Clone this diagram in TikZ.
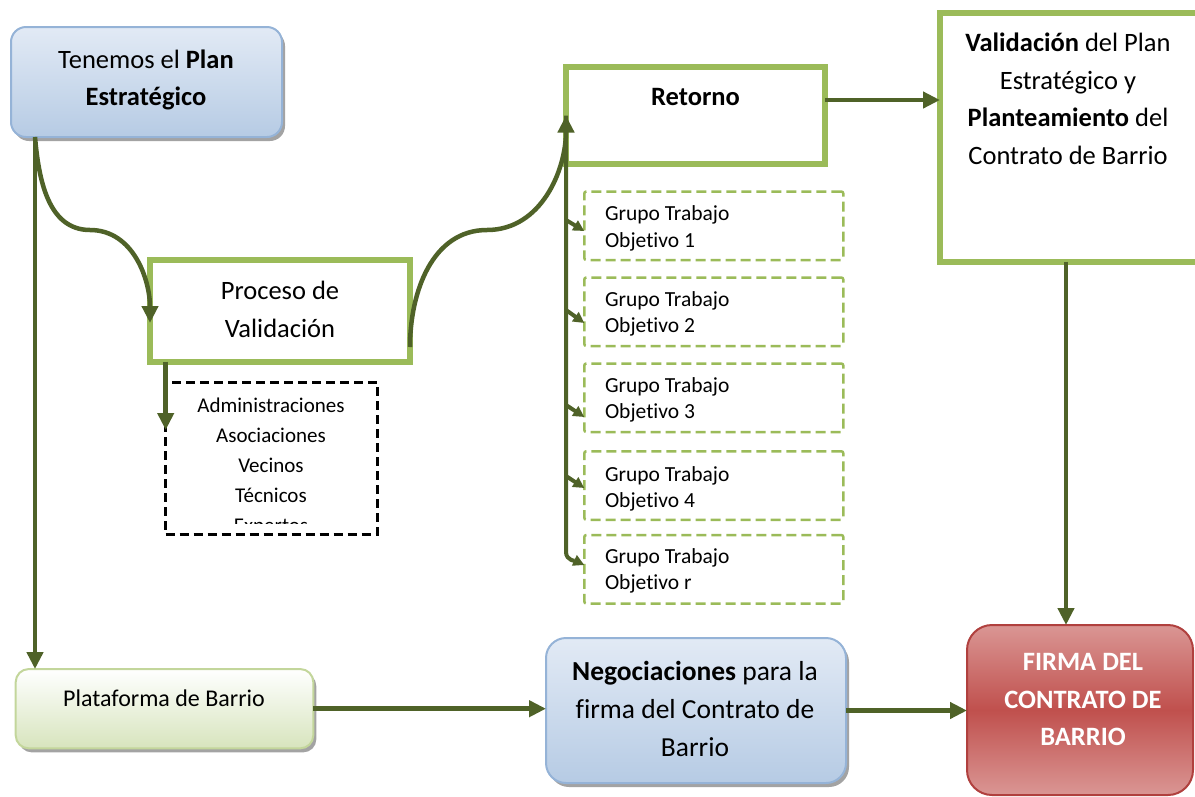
\documentclass[tikz,border=0pt]{standalone}
\usepackage{fontspec}
\setmainfont{Carlito}[Ligatures=NoCommon]
\usetikzlibrary{arrows.meta,shadows,calc}
\definecolor{arrowc}{HTML}{4F6228}
\definecolor{gborder}{HTML}{9BBB59}
\definecolor{blueb}{HTML}{95B3D7}
\definecolor{bluetop}{HTML}{E2EAF5}
\definecolor{bluebot}{HTML}{B6CBE4}
\definecolor{greenbot}{HTML}{D7E4BD}
\definecolor{greenb}{HTML}{C3D69B}
\definecolor{redtop}{HTML}{DA9694}
\definecolor{redmid}{HTML}{C0504D}
\definecolor{redb}{HTML}{B0403E}
\begin{document}
\begin{tikzpicture}[x=1pt,y=-1pt,
  every node/.style={inner sep=0pt,outer sep=0pt},
  bigtxt/.style={font=\fontsize{26.5}{37.5}\selectfont,align=center},
  grptxt/.style={font=\fontsize{21.5}{26.5}\selectfont,align=left,anchor=west},
  shadowed/.style={drop shadow={shadow xshift=3pt,shadow yshift=-4pt,fill=black!45,opacity=0.8}},
  bluebox/.style={draw=blueb,line width=2pt,rounded corners=15pt,top color=bluetop,bottom color=bluebot,shadowed},
  greenbox/.style={draw=greenb,line width=2pt,rounded corners=13pt,top color=white,bottom color=greenbot,shadowed},
  redbox/.style={draw=redb,line width=2pt,rounded corners=25pt,top color=redtop,bottom color=redtop,middle color=redmid},
  thickbox/.style={draw=gborder,line width=6pt,fill=white},
  gdash/.style={draw=gborder,line width=2.5pt,dash pattern=on 10pt off 5pt,rounded corners=2pt},
  kdash/.style={draw=black,line width=2.5pt,dash pattern=on 9pt off 5pt},
  arr/.style={draw=arrowc,line width=4.5pt,-{Triangle[length=17pt,width=16pt]}},
  brarr/.style={draw=arrowc,line width=4pt,-{Triangle[length=11pt,width=11pt]}}
]
\useasboundingbox (0,0) rectangle (1195,796);

% boxes
\node[bluebox,minimum width=271pt,minimum height=110pt] (tenemos) at (146.5,82) {};
\node[bigtxt] (tenemosT) at (146,80) {Tenemos el \textbf{Plan}\\\textbf{Estratégico}};

\node[thickbox,minimum width=260pt,minimum height=101.7pt] (proceso) at (280,310.8) {};
\node[bigtxt] (procesoT) at (280,309.5) {Proceso de\\Validación};

\node[kdash,minimum width=211.6pt,minimum height=152pt] (lista) at (271.5,458.3) {};
\begin{scope}
\clip (168,384) rectangle (376,523.5);
\node[font=\fontsize{21}{30}\selectfont,align=center] (listaT) at (271,467) {Administraciones\\Asociaciones\\Vecinos\\Técnicos\\Expertos};
\end{scope}

\node[thickbox,minimum width=259pt,minimum height=97pt] (retorno) at (695.5,115.5) {};
\node[bigtxt,font=\fontsize{26.5}{37.5}\selectfont\bfseries] (retornoT) at (695.5,97) {Retorno};

\node[thickbox,minimum width=262pt,minimum height=248.5pt] (valid) at (1071,137.25) {};
\node[bigtxt] (validT) at (1068,99) {\textbf{Validación} del Plan\\Estratégico y\\\textbf{Planteamiento} del\\Contrato de Barrio};

\node[gdash,minimum width=259pt,minimum height=68.5pt] (g1) at (713.8,225.75) {};
\node[gdash,minimum width=259pt,minimum height=68.5pt] (g2) at (713.8,311.75) {};
\node[gdash,minimum width=259pt,minimum height=68.5pt] (g3) at (713.8,397.75) {};
\node[gdash,minimum width=259pt,minimum height=68.5pt] (g4) at (713.8,485.5) {};
\node[gdash,minimum width=259pt,minimum height=68.5pt] (gr) at (713.8,569.25) {};
\node[grptxt] (g1T) at (605,228.5) {Grupo Trabajo\\Objetivo 1};
\node[grptxt] (g2T) at (605,314) {Grupo Trabajo\\Objetivo 2};
\node[grptxt] (g3T) at (605,400) {Grupo Trabajo\\Objetivo 3};
\node[grptxt] (g4T) at (605,489) {Grupo Trabajo\\Objetivo 4};
\node[grptxt] (grT) at (605,571) {Grupo Trabajo\\Objetivo r};

\node[greenbox,minimum width=297.6pt,minimum height=79.3pt] (plataforma) at (164.5,708.7) {};
\node[font=\fontsize{24}{30}\selectfont] (plataformaT) at (164,698) {Plataforma de Barrio};

\node[bluebox,rounded corners=20pt,minimum width=300pt,minimum height=145pt] (negoc) at (696,710.5) {};
\node[bigtxt,font=\fontsize{27.5}{38}\selectfont] (negocT) at (695,709) {\textbf{Negociaciones} para la\\firma del Contrato de\\Barrio};

\node[redbox,minimum width=226pt,minimum height=170pt] (firma) at (1080,710) {};
\node[bigtxt,text=white,font=\fontsize{26.5}{37.5}\selectfont\bfseries] (firmaT) at (1083,699.5) {FIRMA DEL\\CONTRATO DE\\BARRIO};

% connectors
\coordinate (t0) at ([xshift=24pt]tenemos.south west);
\draw[arr] (t0) -- (t0 |- plataforma.north);
\draw[arr] (t0) to[out=-85,in=180] (90,230) to[out=0,in=90] (proceso.west |- 0,323);

\coordinate (p0) at ([xshift=15.7pt]proceso.south west);
\draw[arr] (p0) -- (p0 |- 0,430);

\draw[arr] (proceso.east |- 0,347) to[out=90,in=180] (487,230) to[out=0,in=-90] (retorno.west);

\draw[brarr] (retorno.west) -- (retorno.west |- 0,552) to[out=-90,in=155] (gr.west |- 0,565);
\draw[brarr] (retorno.west |- 0,220) -- (g1.west |- 0,231);
\draw[brarr] (retorno.west |- 0,310) -- (g2.west |- 0,323);
\draw[brarr] (retorno.west |- 0,405) -- (g3.west |- 0,417);
\draw[brarr] (retorno.west |- 0,476) -- (g4.west |- 0,488);

\draw[arr] (retorno.east |- 0,100) -- (valid.west |- 0,100);
\draw[arr] (valid.south -| 1066,0) -- (firma.north -| 1066,0);
\draw[arr] (plataforma.east) -- (plataforma.east -| negoc.west);
\draw[arr] (negoc.east) -- (negoc.east -| firma.west);
\end{tikzpicture}
\end{document}
